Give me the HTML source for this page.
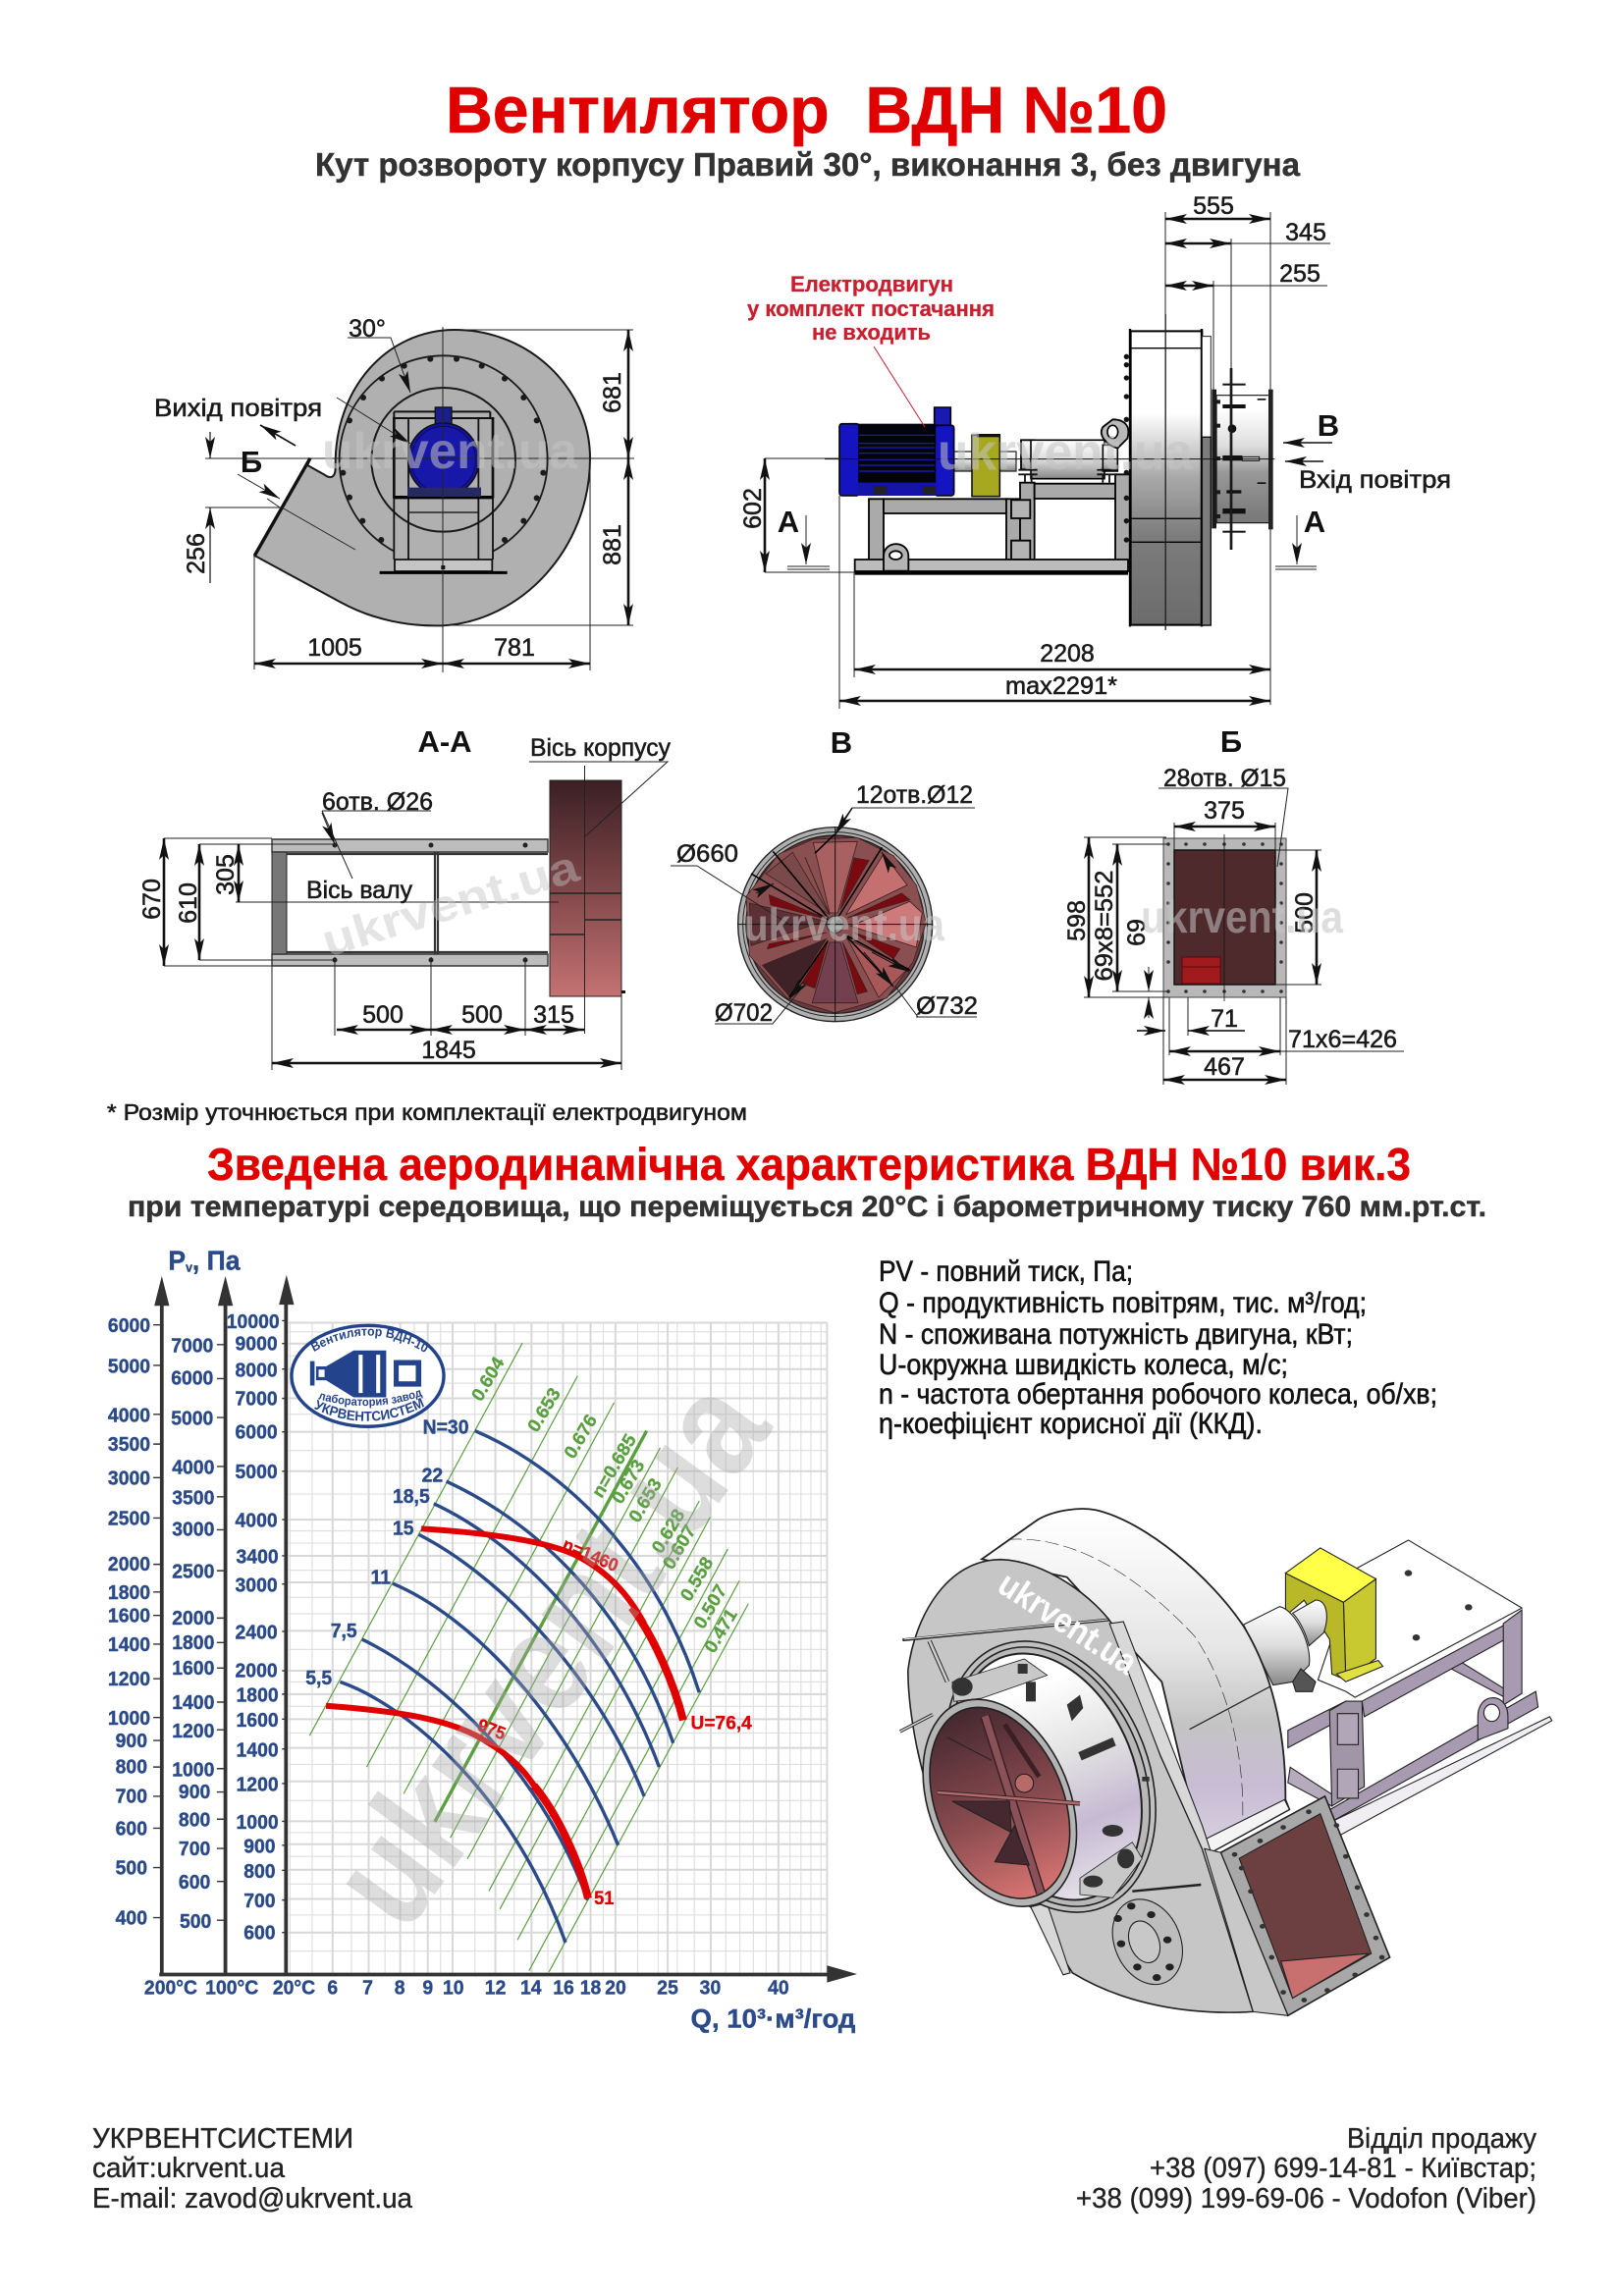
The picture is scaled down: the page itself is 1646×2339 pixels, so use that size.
<!DOCTYPE html>
<html lang="uk"><head><meta charset="utf-8"><title>Вентилятор ВДН №10</title>
<style>
html,body{margin:0;padding:0;background:#fff}
svg{display:block;font-family:"Liberation Sans","DejaVu Sans",sans-serif}
svg *{vector-effect:non-scaling-stroke}
.t{fill:#1a1a1a;font-size:25px;stroke:#1a1a1a;stroke-width:.55px}
.h{font-weight:bold;font-size:31px;fill:#111}
.d{fill:none;stroke:#111;stroke-width:2.6;marker-start:url(#a);marker-end:url(#a)}
.e{fill:none;stroke:#222;stroke-width:1}
.s{stroke:#000;stroke-width:1.6}
.c text{font-weight:bold;font-size:38px;fill:#2a4a8a;stroke:#2a4a8a;stroke-width:.4px}
.g text{font-weight:bold;font-size:36px;fill:#5aa040;stroke:#5aa040;stroke-width:.3px;text-anchor:middle}
.wm{font-weight:bold;fill:#c4c4c4;opacity:.55}
</style></head><body>
<svg xmlns="http://www.w3.org/2000/svg" width="1646" height="2339" viewBox="0 0 1646 2339">
<defs>
<marker id="a" markerUnits="userSpaceOnUse" markerWidth="24" markerHeight="10" refX="22" refY="5" orient="auto-start-reverse"><path d="M0 0L22 5L0 10L5 5Z" fill="#111"/></marker>
<marker id="b" markerUnits="userSpaceOnUse" markerWidth="24" markerHeight="10" refX="22" refY="5" orient="auto"><path d="M0 0L22 5L0 10L5 5Z" fill="#111"/></marker>
<linearGradient id="gc" x1="0" y1="0" x2="0" y2="1"><stop offset=".28" stop-color="#fff"/><stop offset=".5" stop-color="#a8a8a8"/><stop offset=".7" stop-color="#7c7c7c"/><stop offset="1" stop-color="#6c6c6c"/></linearGradient>
<linearGradient id="gi" x1="0" y1="0" x2="0" y2="1"><stop offset=".1" stop-color="#fff"/><stop offset=".4" stop-color="#ddd"/><stop offset=".6" stop-color="#999"/><stop offset="1" stop-color="#777"/></linearGradient>
<linearGradient id="gs" x1="0" y1="0" x2="0" y2="1"><stop offset="0" stop-color="#fff"/><stop offset=".5" stop-color="#ddd"/><stop offset="1" stop-color="#888"/></linearGradient>
<linearGradient id="gm" x1="0" y1="0" x2="0" y2="1"><stop offset="0" stop-color="#3a2024"/><stop offset=".5" stop-color="#80474a"/><stop offset="1" stop-color="#c47272"/></linearGradient>
<linearGradient id="gp" x1="0" y1="0" x2="0" y2="1"><stop offset=".15" stop-color="#fff"/><stop offset=".45" stop-color="#e2e2e2"/><stop offset=".72" stop-color="#c6bad2"/><stop offset="1" stop-color="#e6e2ea"/></linearGradient>
<linearGradient id="gh" x1="0" y1="0" x2="0" y2="1"><stop offset="0" stop-color="#452830"/><stop offset=".55" stop-color="#8a4c50"/><stop offset="1" stop-color="#d87472"/></linearGradient>
<linearGradient id="gd" x1="0" y1="0" x2="0" y2="1"><stop offset=".02" stop-color="#fff"/><stop offset=".4" stop-color="#e6e6e6"/><stop offset=".62" stop-color="#c4c4c4"/><stop offset=".8" stop-color="#c8bcd4"/><stop offset="1" stop-color="#dad4e0"/></linearGradient>
</defs>
<rect width="1646" height="2339" fill="#fff"/>

<!-- titles -->
<text x="454" y="135" font-size="67" font-weight="bold" fill="#e00000" stroke="#e00000" stroke-width=".6" textLength="735" lengthAdjust="spacingAndGlyphs" xml:space="preserve">Вентилятор  ВДН №10</text>
<text x="321" y="179" font-size="33" font-weight="bold" fill="#333" stroke="#333" stroke-width=".5" textLength="1003" lengthAdjust="spacingAndGlyphs">Кут розвороту корпусу Правий 30°, виконання 3, без двигуна</text>

<!-- FRONT VIEW -->
<g transform="translate(230 320) scale(.33333)">
<path d="M258 440L88 738L350 880C450 935 560 955 660 952C900 940 1113 720 1113 440C1113 230 930 48 700 48C490 48 330 230 335 470C335 500 320 505 300 490L250 462Z" fill="#b0b0b0" stroke="#1a1a1a" stroke-width="2"/>
<path d="M258 440L88 738" stroke="#111" stroke-width="3.4"/>
<circle cx="665" cy="445" r="318" fill="none" stroke="#1a1a1a" stroke-width="1.8"/>
<g fill="#1a1a1a"><circle cx="625" cy="137" r="9"/><circle cx="705" cy="137" r="9"/><circle cx="782" cy="158" r="9"/><circle cx="852" cy="197" r="9"/><circle cx="910" cy="255" r="9"/><circle cx="950" cy="325" r="9"/><circle cx="970" cy="485" r="9"/><circle cx="950" cy="562" r="9"/><circle cx="910" cy="632" r="9"/><circle cx="852" cy="690" r="9"/><circle cx="475" cy="690" r="9"/><circle cx="418" cy="632" r="9"/><circle cx="378" cy="560" r="9"/><circle cx="358" cy="485" r="9"/><circle cx="378" cy="325" r="9"/><circle cx="420" cy="255" r="9"/><circle cx="477" cy="197" r="9"/><circle cx="545" cy="158" r="9"/><circle cx="625" cy="745" r="6"/><circle cx="705" cy="745" r="6"/></g>
<rect x="514" y="300" width="302" height="455" fill="#b0b0b0"/>
<circle cx="665" cy="445" r="220" fill="none" stroke="#1a1a1a" stroke-width="2"/>
<path d="M514 750V318M558 750V318M772 750V318M816 750V318" stroke="#111" stroke-width="1.8" fill="none"/>
<path d="M510 318H820M514 298H808M514 298V318M808 298V318" stroke="#111" stroke-width="2" fill="none"/>
<rect x="510" y="318" width="8" height="245" fill="#111"/><rect x="812" y="318" width="8" height="245" fill="#111"/>
<path d="M516 560H816" stroke="#000" stroke-width="3.4"/><path d="M558 606H772" stroke="#222" stroke-width="1.6"/>
<rect x="640" y="285" width="50" height="50" fill="#1a1f8c" stroke="#111" stroke-width="1.4"/>
<ellipse cx="665" cy="445" rx="108" ry="112" fill="#1414a0" stroke="#111" stroke-width="1.6"/>
<ellipse cx="665" cy="445" rx="98" ry="102" fill="#1818a8" stroke="#0a0a60" stroke-width="1"/>
<rect x="555" y="530" width="225" height="28" fill="#262a60"/>
<rect x="516" y="750" width="298" height="36" fill="#c4c4c4" stroke="#111" stroke-width="1.8"/>
<path d="M470 790H860" stroke="#000" stroke-width="3"/>
<rect x="658" y="768" width="12" height="12" fill="#111"/>
</g>
<path class="e" d="M209 467H646M462 336H645M440 637H645M451 333V685M259 565V682M601 466V683M209 517H287M287 517L362 560"/>
<path class="d" d="M259 676H451"/><path class="d" d="M451 676H601"/>
<path class="d" d="M640 336V467"/><path class="d" d="M640 467V637"/>
<path d="M214 440V467" stroke="#111" stroke-width="1.2" marker-end="url(#b)"/><path d="M214 594V517" stroke="#111" stroke-width="1.2" marker-end="url(#b)"/>
<path d="M354 344H398L418 400" class="e" marker-end="url(#b)"/>
<path d="M343 405L418 452" class="e" marker-end="url(#b)"/>
<path d="M242 483L285 508" class="e" marker-end="url(#b)"/><path d="M272 508L285 517" class="e"/>
<path d="M301 454L265 433" stroke="#111" stroke-width="1.6" marker-end="url(#b)"/>
<text class="t" x="374" y="343" text-anchor="middle">30°</text>
<text class="t" x="157" y="424" textLength="171" lengthAdjust="spacingAndGlyphs">Вихід повітря</text>
<text class="h" x="256" y="481" text-anchor="middle" font-size="30">Б</text>
<text class="t" x="341" y="668" text-anchor="middle">1005</text>
<text class="t" x="524" y="668" text-anchor="middle">781</text>
<text class="t" transform="translate(208 564) rotate(-90)" text-anchor="middle">256</text>
<text class="t" transform="translate(632 400) rotate(-90)" text-anchor="middle">681</text>
<text class="t" transform="translate(632 555) rotate(-90)" text-anchor="middle">881</text>
<text class="wm" x="328" y="477" font-size="52" textLength="260" lengthAdjust="spacingAndGlyphs">ukrvent.ua</text>

<!-- SIDE VIEW -->
<g transform="translate(840 320) scale(.33333)">
<rect x="135" y="565" width="45" height="190" fill="#aaa" stroke="#000" stroke-width="1.8"/>
<rect x="180" y="565" width="378" height="44" fill="#aaa" stroke="#000" stroke-width="1.8"/>
<rect x="555" y="565" width="42" height="190" fill="#aaa" stroke="#000" stroke-width="1.8"/>
<rect x="597" y="515" width="44" height="240" fill="#aaa" stroke="#000" stroke-width="1.8"/>
<rect x="570" y="568" width="58" height="56" fill="#b4b4b4" stroke="#000" stroke-width="1.8"/>
<rect x="570" y="692" width="58" height="58" fill="#b4b4b4" stroke="#000" stroke-width="1.8"/>
<rect x="641" y="518" width="250" height="46" fill="#aaa" stroke="#000" stroke-width="1.8"/>
<rect x="888" y="490" width="47" height="265" fill="#aaa" stroke="#000" stroke-width="1.8"/>
<rect x="92" y="750" width="835" height="36" fill="#bcbcbc" stroke="#000" stroke-width="1.8"/>
<rect x="92" y="784" width="835" height="13" fill="#000"/>
<path d="M180 785V740C180 690 256 690 256 740V785Z" fill="#b4b4b4" stroke="#000" stroke-width="1.8"/>
<ellipse cx="217" cy="737" rx="19" ry="13" fill="#fff" stroke="#000" stroke-width="1.8"/>
<rect x="395" y="420" width="190" height="60" fill="url(#gs)" stroke="#222" stroke-width="1.2"/>
<rect x="600" y="385" width="40" height="90" fill="url(#gs)" stroke="#000" stroke-width="1.8"/>
<rect x="630" y="385" width="225" height="118" fill="url(#gs)" stroke="#000" stroke-width="1.6"/>
<rect x="850" y="400" width="45" height="80" fill="url(#gs)" stroke="#000" stroke-width="1.6"/>
<path d="M592 476H650M592 490H650M832 476H895M832 490H895M612 490V515M632 490V515M850 490V515M870 490V515" stroke="#111" stroke-width="1.8" fill="none"/>
<path d="M880 322C920 322 935 345 925 380L895 410C860 400 835 370 850 345Z" fill="#b8b8b8" stroke="#000" stroke-width="1.8"/>
<ellipse cx="880" cy="360" rx="16" ry="20" fill="#fff" stroke="#000" stroke-width="1.6"/>
<rect x="450" y="370" width="85" height="187" fill="#a8a820" stroke="#111" stroke-width="1.6"/><rect x="465" y="366" width="72" height="10" fill="#111"/>
<rect x="335" y="285" width="50" height="60" fill="#1a1ab0" stroke="#000" stroke-width="1.6"/>
<rect x="100" y="335" width="240" height="220" fill="#04040c"/>
<rect x="45" y="335" width="60" height="220" rx="8" fill="#1414c0" stroke="#000" stroke-width="1.6"/>
<rect x="337" y="340" width="58" height="215" rx="8" fill="#1414c0" stroke="#000" stroke-width="1.6"/>
<path d="M105 370H335M105 395H335M105 408H335M105 425H335M105 445H335M105 462H335M105 480H335" stroke="#1c1cc8" stroke-width="1.2"/>
<rect x="100" y="515" width="240" height="40" fill="#1414a8"/>
<path d="M150 525H190V550H150ZM300 525H340V550H300Z" fill="#222"/>
<rect x="935" y="52" width="218" height="898" fill="url(#gc)" stroke="#000" stroke-width="2"/>
<path d="M935 104H1153M935 625H1153M935 697H1153" stroke="#000" stroke-width="1.4"/>
<path d="M933 45V955M1152 45V955" stroke="#000" stroke-width="2.4"/>
<rect x="1153" y="68" width="27" height="308" fill="#fff" stroke="#222" stroke-width="1"/>
<rect x="1153" y="376" width="27" height="575" fill="#7c7c7c" stroke="#111" stroke-width="1.4"/>
<g fill="#111"><circle cx="922" cy="130" r="8"/><circle cx="922" cy="155" r="8"/><circle cx="922" cy="195" r="8"/><circle cx="922" cy="252" r="8"/><circle cx="922" cy="322" r="8"/><circle cx="922" cy="484" r="8"/><circle cx="922" cy="562" r="8"/><circle cx="922" cy="632" r="8"/><circle cx="922" cy="690" r="8"/></g>
<rect x="1197" y="248" width="166" height="390" fill="url(#gi)" stroke="#111" stroke-width="1.2"/>
<rect x="1356" y="230" width="14" height="428" fill="#222"/>
<rect x="1183" y="230" width="14" height="425" fill="#1a1a1a"/>
<g fill="#1a1a1a"><rect x="1195" y="262" width="14" height="12"/><rect x="1195" y="335" width="14" height="12"/><rect x="1195" y="435" width="14" height="12"/><rect x="1195" y="538" width="14" height="12"/><rect x="1195" y="612" width="14" height="12"/></g>
<rect x="1238" y="165" width="8" height="555" fill="#111"/>
<g fill="#111"><rect x="1216" y="212" width="70" height="6"/><rect x="1216" y="276" width="70" height="12"/><circle cx="1245" cy="350" r="13"/><rect x="1216" y="432" width="60" height="16"/><rect x="1228" y="538" width="45" height="10"/><rect x="1216" y="594" width="70" height="16"/><rect x="1216" y="662" width="70" height="6"/><rect x="1322" y="258" width="26" height="5"/><rect x="1322" y="514" width="26" height="5"/></g>
<rect x="1276" y="436" width="52" height="12" fill="#ccc" stroke="#111"/>
<path d="M0 443H1375" stroke="#111" stroke-width="1" fill="none"/>
<path d="M1042 0V965" stroke="#111" stroke-width="1"/>
</g>
<path class="e" d="M1187 216V642M1294 216V718M1254 243V558M1236 286V440M1254 248H1355M1236 291H1352M779 467H860M779 583H871M870 583V690M855 505V722M802 577H845M802 580H845M1299 577H1341M1299 580H1341"/>
<path class="d" d="M1187 223H1294"/><path class="d" d="M1187 248H1254"/><path class="d" d="M1187 291H1236"/>
<path class="d" d="M779 467V583"/><path class="d" d="M870 682H1294"/><path class="d" d="M855 714H1294"/>
<path d="M821 525V575" class="e" marker-end="url(#b)"/><path d="M1321 525V575" class="e" marker-end="url(#b)"/>
<path d="M1357 451H1307" stroke="#111" stroke-width="1.6" marker-end="url(#b)"/><path d="M1348 470H1309" stroke="#111" stroke-width="1.6" marker-end="url(#b)"/>
<path d="M890 353L942 435" stroke="#c8202f" stroke-width="1" fill="none"/>
<g font-weight="bold" font-size="22" fill="#c8202f" stroke="#c8202f" stroke-width=".3">
<text x="805" y="297" textLength="166" lengthAdjust="spacingAndGlyphs">Електродвигун</text>
<text x="761" y="322" textLength="252" lengthAdjust="spacingAndGlyphs">у комплект постачання</text>
<text x="827" y="346" textLength="121" lengthAdjust="spacingAndGlyphs">не входить</text>
</g>
<text class="t" x="1236" y="218" text-anchor="middle">555</text>
<text class="t" x="1330" y="245" text-anchor="middle">345</text>
<text class="t" x="1324" y="287" text-anchor="middle">255</text>
<text class="t" transform="translate(775 518) rotate(-90)" text-anchor="middle">602</text>
<text class="h" x="803" y="542" text-anchor="middle" font-size="27">А</text>
<text class="h" x="1339" y="542" text-anchor="middle" font-size="27">А</text>
<text class="h" x="1353" y="444" text-anchor="middle" font-size="30">В</text>
<text class="t" x="1323" y="497" textLength="155" lengthAdjust="spacingAndGlyphs">Вхід повітря</text>
<text class="t" x="1087" y="674" text-anchor="middle">2208</text>
<text class="t" x="1024" y="707" textLength="114" lengthAdjust="spacingAndGlyphs">max2291*</text>
<text class="wm" x="955" y="478" font-size="52" textLength="260" lengthAdjust="spacingAndGlyphs">ukrvent.ua</text>

<!-- SECTION A-A -->
<rect x="277" y="855" width="281" height="13" fill="#bdbdbd" stroke="#333" stroke-width="1.4"/>
<rect x="277" y="972" width="281" height="12" fill="#bdbdbd" stroke="#333" stroke-width="1.4"/>
<rect x="277" y="868" width="15" height="104" fill="#777" stroke="#222" stroke-width="1"/>
<path d="M292 870H558M292 970H558M443 868V972M446 868V972" stroke="#333" stroke-width="2.2" fill="none"/>
<rect x="560" y="795" width="73" height="220" fill="url(#gm)" stroke="#222" stroke-width="1"/>
<path d="M560 910H633M596 937H633M560 952H596" stroke="#222" stroke-width="1.4"/>
<rect x="633" y="1009" width="4" height="3" fill="#111"/>
<path class="e" d="M595.5 780V1053M167 854H277M167 984H277M203 860H341M203 978H341M240 919H569M277 984V1090M341 975V1055M439 975V1055M535 975V1055M633 1015V1090"/>
<g fill="#222"><circle cx="341" cy="861" r="2.5"/><circle cx="439" cy="861" r="2.5"/><circle cx="535" cy="861" r="2.5"/><circle cx="341" cy="978" r="2.5"/><circle cx="439" cy="978" r="2.5"/><circle cx="535" cy="978" r="2.5"/></g>
<path class="d" d="M167 854V984"/><path class="d" d="M203 860V978"/><path class="d" d="M243 860V919"/>
<path class="d" d="M343 1049H439"/><path class="d" d="M439 1049H535"/><path class="d" d="M535 1049H595"/><path class="d" d="M277 1083H633"/>
<path class="e" d="M328 826H439M328 826L359 895M539 776H680L596 852"/>
<path d="M328 828L341 860" class="e" marker-end="url(#b)"/>
<text class="h" x="453" y="766" text-anchor="middle" font-size="30">А-А</text>
<text class="h" x="857" y="767" text-anchor="middle" font-size="30">В</text>
<text class="h" x="1254" y="766" text-anchor="middle" font-size="30">Б</text>
<text class="t" x="540" y="770" textLength="143" lengthAdjust="spacingAndGlyphs">Вісь корпусу</text>
<text class="t" x="328" y="825" textLength="113" lengthAdjust="spacingAndGlyphs">6отв. Ø26</text>
<text class="t" x="312" y="915" textLength="108" lengthAdjust="spacingAndGlyphs">Вісь валу</text>
<text class="t" transform="translate(163 916) rotate(-90)" text-anchor="middle">670</text>
<text class="t" transform="translate(200 920) rotate(-90)" text-anchor="middle">610</text>
<text class="t" transform="translate(238 891) rotate(-90)" text-anchor="middle">305</text>
<text class="t" x="390" y="1042" text-anchor="middle">500</text>
<text class="t" x="491" y="1042" text-anchor="middle">500</text>
<text class="t" x="564" y="1042" text-anchor="middle">315</text>
<text class="t" x="457" y="1078" text-anchor="middle">1845</text>
<text class="wm" transform="translate(334 975) rotate(-17)" font-size="46" style="opacity:.45" textLength="270" lengthAdjust="spacingAndGlyphs">ukrvent.ua</text>

<!-- VIEW B circle -->
<g transform="translate(730 830) scale(.33333)">
<circle cx="362" cy="335" r="297" fill="#b0b0b0" stroke="#222" stroke-width="1.4"/>
<circle cx="362" cy="335" r="282" fill="none" stroke="#222" stroke-width="1"/>
<circle cx="362" cy="335" r="272" fill="#6c3a3e" stroke="#222" stroke-width="1.4"/>
<g stroke="#3a2020" stroke-width=".8">
<polygon points="430,70 540,125 610,215 640,330 600,450 520,560 360,605 215,560 100,430 90,250 190,120 295,75" fill="#8a4f50"/>
<polygon points="295,85 430,82 370,300 345,300" fill="#a86060"/>
<polygon points="510,120 582,215 395,305" fill="#c47070"/>
<polygon points="590,265 628,300 610,405 410,340" fill="#cc7a7a"/>
<polygon points="585,470 495,558 400,380" fill="#a85858"/>
<polygon points="292,575 432,575 378,390 345,390" fill="#744050"/>
<polygon points="140,460 222,555 335,380" fill="#3f2228"/>
<polygon points="100,270 105,400 330,325" fill="#5c3035"/>
<polygon points="150,180 232,115 345,305" fill="#7a4a4a"/>
<polygon points="465,140 420,132 378,290" fill="#7a0a10"/>
<polygon points="565,240 590,260 400,315" fill="#7a0a10"/>
<polygon points="560,410 540,440 420,360" fill="#7a0a10"/>
<polygon points="460,540 430,548 385,390" fill="#7a0a10"/>
<polygon points="300,530 260,515 340,385" fill="#7a0a10"/>
<polygon points="160,245 165,275 340,320" fill="#7a0a10"/>
<polygon points="155,410 160,395 335,360" fill="#7a0a10"/>
<polygon points="270,130 310,225 345,305" fill="#7a0a10"/>
</g>
<circle cx="362" cy="335" r="26" fill="#999" stroke="#333"/>
<path d="M362 40V630M65 335H660" stroke="#111" stroke-width="1" fill="none"/>
<g stroke="#000" stroke-width="1.6" fill="none">
<path d="M505 100L372 312"/><path d="M172 112L340 315"/><path d="M105 180L340 320"/><path d="M590 475L395 368"/><path d="M540 525L395 370"/><path d="M222 558L340 385"/>
<path d="M360 60L300 118"/>
</g>
</g>
<path class="e" d="M868 823H993M868 823L850 848M683 882H710L806 943M728 1043H787L822 1000M933 1036H935L912 1005M933 1036H995"/>
<path d="M868 823L851 850" stroke="#111" stroke-width="1.5" marker-end="url(#b)"/>
<path d="M905 880L898 868" stroke="#111" stroke-width="1" marker-end="url(#b)"/>
<path d="M770 910L788 900" stroke="#111" stroke-width="1" marker-end="url(#b)"/>
<path d="M818 1000L804 1018" stroke="#111" stroke-width="1" marker-end="url(#b)"/>
<path d="M888 970L926 990" stroke="#111" stroke-width="1" marker-end="url(#b)"/>
<path d="M880 970L910 1005" stroke="#111" stroke-width="1" marker-end="url(#b)"/>
<text class="t" x="872" y="818" textLength="119" lengthAdjust="spacingAndGlyphs">12отв.Ø12</text>
<text class="t" x="689" y="878" textLength="63" lengthAdjust="spacingAndGlyphs">Ø660</text>
<text class="t" x="728" y="1040" textLength="59" lengthAdjust="spacingAndGlyphs">Ø702</text>
<text class="t" x="933" y="1033" textLength="63" lengthAdjust="spacingAndGlyphs">Ø732</text>
<text class="wm" x="758" y="958" font-size="46" textLength="204" lengthAdjust="spacingAndGlyphs">ukrvent.ua</text>

<!-- VIEW Б -->
<rect x="1185" y="854" width="125" height="162" fill="#b8b8b8" stroke="#444" stroke-width="1"/>
<rect x="1196" y="866" width="103" height="137" fill="#4e2a2c" stroke="#111" stroke-width="1.4"/>
<rect x="1204" y="975" width="39" height="27" fill="#a01a1e" stroke="#5a0a0a" stroke-width="1"/><path d="M1204 985H1243" stroke="#5a0a0a"/>
<g fill="#333"><circle cx="1190" cy="860" r="1.8"/><circle cx="1208" cy="860" r="1.8"/><circle cx="1227" cy="860" r="1.8"/><circle cx="1247" cy="860" r="1.8"/><circle cx="1267" cy="860" r="1.8"/><circle cx="1286" cy="860" r="1.8"/><circle cx="1305" cy="860" r="1.8"/><circle cx="1190" cy="1010" r="1.8"/><circle cx="1208" cy="1010" r="1.8"/><circle cx="1227" cy="1010" r="1.8"/><circle cx="1247" cy="1010" r="1.8"/><circle cx="1267" cy="1010" r="1.8"/><circle cx="1286" cy="1010" r="1.8"/><circle cx="1305" cy="1010" r="1.8"/><circle cx="1190" cy="880" r="1.8"/><circle cx="1190" cy="900" r="1.8"/><circle cx="1190" cy="920" r="1.8"/><circle cx="1190" cy="940" r="1.8"/><circle cx="1190" cy="960" r="1.8"/><circle cx="1190" cy="980" r="1.8"/><circle cx="1305" cy="880" r="1.8"/><circle cx="1305" cy="900" r="1.8"/><circle cx="1305" cy="920" r="1.8"/><circle cx="1305" cy="940" r="1.8"/><circle cx="1305" cy="960" r="1.8"/><circle cx="1305" cy="980" r="1.8"/></g>
<path d="M1247 850V1020" stroke="#111" stroke-width=".8"/>
<path class="e" d="M1104 853H1188M1104 1016H1188M1133 860H1190M1133 1010H1190M1299 866H1346M1299 1003H1346M1196 838V866M1299 838V866M1185 1016V1105M1310 1016V1105M1191 1016V1075M1304 1016V1075M1210 1016V1055M1304 1071H1430M1180 803H1312L1301 883M1165 1016H1190"/>
<path class="d" d="M1109 853V1016"/><path class="d" d="M1138 860V1010"/><path class="d" d="M1341 866V1003"/>
<path class="d" d="M1196 842H1299"/><path class="d" d="M1185 1100H1310"/><path class="d" d="M1191 1071H1304"/>
<path d="M1170 985V1010" class="e" marker-end="url(#b)"/><path d="M1170 1037V1016" class="e" marker-end="url(#b)"/>
<path d="M1158 1050H1187" class="s" marker-end="url(#b)"/><path d="M1268 1050H1210" class="s" marker-end="url(#b)"/>
<text class="t" x="1185" y="801" textLength="125" lengthAdjust="spacingAndGlyphs">28отв. Ø15</text>
<text class="t" x="1247" y="834" text-anchor="middle">375</text>
<text class="t" transform="translate(1105 938) rotate(-90)" text-anchor="middle">598</text>
<text class="t" transform="translate(1133 943) rotate(-90)" text-anchor="middle" textLength="113" lengthAdjust="spacingAndGlyphs">69x8=552</text>
<text class="t" transform="translate(1166 950) rotate(-90)" text-anchor="middle">69</text>
<text class="t" transform="translate(1337 930) rotate(-90)" text-anchor="middle">500</text>
<text class="t" x="1247" y="1046" text-anchor="middle">71</text>
<text class="t" x="1312" y="1067" textLength="111" lengthAdjust="spacingAndGlyphs">71x6=426</text>
<text class="t" x="1247" y="1095" text-anchor="middle">467</text>
<text class="wm" x="1162" y="950" font-size="46" textLength="206" lengthAdjust="spacingAndGlyphs">ukrvent.ua</text>

<text class="t" x="109" y="1141" style="font-size:23px" textLength="652" lengthAdjust="spacingAndGlyphs">* Розмір уточнюється при комплектації електродвигуном</text>
<text x="211" y="1202" font-size="46" font-weight="bold" fill="#e00000" stroke="#e00000" stroke-width=".5" textLength="1226" lengthAdjust="spacingAndGlyphs">Зведена аеродинамічна характеристика ВДН №10 вик.3</text>
<text x="130" y="1239" font-size="30" font-weight="bold" fill="#333" stroke="#333" stroke-width=".5" textLength="1384" lengthAdjust="spacingAndGlyphs">при температурі середовища, що переміщується 20°С і барометричному тиску 760 мм.рт.ст.</text>

<!-- CHART -->
<g transform="matrix(.5102 0 0 .542 100 1250)">
<path fill="none" stroke="#e0e0e0" stroke-width="1.2" d="M383 180V1402M427 180V1402M505.500 180V1402M572.700 180V1402M631 180V1402M683.500 180V1402M752 180V1402M830.600 180V1402M897.700 180V1402M956.400 180V1402M1008.400 180V1402M1077 180V1402M1118 180V1402M1156 180V1402M1190 180V1402M1253 180V1402M1281 180V1402M1308 180V1402M1333.700 180V1402M1381 180V1402M1403 180V1402M1423 180V1402M1443 180V1402M380 197H1455M380 242H1455M380 293.600H1455M380 352H1455M380 420H1455M380 502H1455M380 571H1455M380 594H1455M380 645H1455M380 696H1455M380 727H1455M380 794H1455M380 855H1455M380 901H1455M380 951H1455M380 1010H1455M380 1078H1455M380 1138H1455M380 1183H1455M380 1235H1455M380 1293H1455M380 1361H1455"/>
<path fill="none" stroke="#d8d8d8" stroke-width="2" d="M468 180V1402M540 180V1402M603 180V1402M658 180V1402M707.600 180V1402M793 180V1402M865 180V1402M928 180V1402M983 180V1402M1032.700 180V1402M1137 180V1402M1223 180V1402M1358 180V1402M1455 180V1402M380 180H1455M380 219H1455M380 267H1455M380 322H1455M380 385H1455M380 459H1455M380 550H1455M380 618H1455M380 668H1455M380 759H1455M380 834H1455M380 878H1455M380 925H1455M380 979H1455M380 1042H1455M380 1117H1455M380 1160H1455M380 1208H1455M380 1263H1455M380 1326H1455"/>
<path fill="none" stroke="#5aa040" stroke-width="1.2" d="M422 956L847 218M536 1015L957 280M610 1065L1030 330M703 1148L1122 415M737 1188L1157 452M780 1248L1200 515M802 1282L1222 545M837 1340L1257 605M860 1398L1280 665M900 1400L1298 708"/>
<path fill="none" stroke="#5aa040" stroke-width="3.4" d="M672 1118L1095 383"/>
<g class="g">
<text transform="translate(788 292) rotate(-58)">0.604</text>
<text transform="translate(900 350) rotate(-58)">0.653</text>
<text transform="translate(973 400) rotate(-58)">0.676</text>
<text transform="translate(1040 455) rotate(-58)">n=0.685</text>
<text transform="translate(1068 485) rotate(-58)">0.673</text>
<text transform="translate(1102 520) rotate(-58)">0.653</text>
<text transform="translate(1148 578) rotate(-58)">0.628</text>
<text transform="translate(1170 608) rotate(-58)">0.607</text>
<text transform="translate(1205 668) rotate(-58)">0.558</text>
<text transform="translate(1232 720) rotate(-58)">0.507</text>
<text transform="translate(1253 765) rotate(-58)">0.471</text>
</g>
<g fill="none" stroke="#2a4a8a" stroke-width="3.4">
<path d="M752 383C920 450 1110 610 1200 875"/>
<path d="M695 478C860 550 1050 700 1148 970"/>
<path d="M670 520C830 590 1020 760 1120 1015"/>
<path d="M640 578C790 650 990 830 1090 1070"/>
<path d="M588 670C740 730 930 910 1038 1162"/>
<path d="M527 775C670 840 880 1010 977 1265"/>
<path d="M483 855C620 900 830 1070 933 1345"/>
</g>
<g fill="none" stroke="#e00000" stroke-linecap="butt">
<path d="M645 567C780 575 900 590 960 620C1040 660 1075 720 1090 745" stroke-width="6"/>
<path d="M1065 715C1110 770 1150 860 1168 927" stroke-width="8"/>
<path d="M455 900C600 910 710 925 780 970C850 1010 870 1050 895 1085" stroke-width="6"/>
<path d="M870 1050C915 1100 960 1190 978 1262" stroke-width="8"/>
</g>
<g class="c">
<text x="648" y="388">N=30</text><text x="646" y="479">22</text><text x="588" y="518">18,5</text><text x="588" y="578">15</text><text x="544" y="671">11</text><text x="464" y="771">7,5</text><text x="414" y="860">5,5</text>
</g>
<g font-weight="bold" font-size="36" fill="#e00000" stroke="#e00000" stroke-width=".3">
<text transform="translate(925 605) rotate(22)" font-size="34">n=1460</text>
<text transform="translate(755 945) rotate(20)" font-size="34">975</text>
<text x="1183" y="944" textLength="122" lengthAdjust="spacingAndGlyphs">U=76,4</text>
<text x="990" y="1273">51</text>
</g>
<g fill="none" stroke="#333" stroke-width="3.8"><path d="M127 140V1405M254 140V1405M375 140V1405M122 1405H1460"/></g>
<g fill="#333"><path d="M127 92L112 148H142ZM254 92L239 148H269ZM376 90L361 146H391ZM1515 1404L1455 1388V1420Z"/></g>
<path fill="none" stroke="#333" stroke-width="1.4" d="M110 184H127M110 260H127M110 352H127M110 408H127M110 471H127M110 547H127M110 634H127M110 686H127M110 730H127M110 784H127M110 849H127M110 922H127M110 965H127M110 1015H127M110 1070H127M110 1130H127M110 1204H127M110 1298H127M237 221H254M237 285H254M237 358H254M237 450H254M237 507H254M237 569H254M237 646H254M237 735H254M237 781H254M237 829H254M237 893H254M237 945H254M237 1018H254M237 1062H254M237 1113H254M237 1168H254M237 1230H254M237 1303H254M367 176H375M367 219H375M367 267H375M367 322H375M367 385H375M367 459H375M367 550H375M367 618H375M367 671H375M367 760H375M367 834H375M367 878H375M367 925H375M367 981H375M367 1046H375M367 1117H375M367 1162H375M367 1209H375M367 1265H375M367 1326H375"/>
<g class="c" text-anchor="end">
<text x="104" y="197">6000</text><text x="104" y="274">5000</text><text x="104" y="366">4000</text><text x="104" y="421">3500</text><text x="104" y="484">3000</text><text x="104" y="560">2500</text><text x="104" y="646">2000</text><text x="104" y="699">1800</text><text x="104" y="743">1600</text><text x="104" y="797">1400</text><text x="104" y="862">1200</text><text x="104" y="935">1000</text><text x="98" y="978">900</text><text x="98" y="1027">800</text><text x="98" y="1082">700</text><text x="98" y="1143">600</text><text x="98" y="1217">500</text><text x="98" y="1311">400</text>
<text x="230" y="235">7000</text><text x="230" y="296">6000</text><text x="230" y="372">5000</text><text x="232" y="464">4000</text><text x="232" y="521">3500</text><text x="232" y="580">3000</text><text x="232" y="660">2500</text><text x="232" y="747">2000</text><text x="232" y="793">1800</text><text x="232" y="841">1600</text><text x="232" y="906">1400</text><text x="232" y="959">1200</text><text x="232" y="1032">1000</text><text x="224" y="1074">900</text><text x="224" y="1126">800</text><text x="224" y="1181">700</text><text x="224" y="1244">600</text><text x="226" y="1317">500</text>
<text x="362" y="190">10000</text><text x="358" y="232">9000</text><text x="358" y="281">8000</text><text x="358" y="335">7000</text><text x="358" y="398">6000</text><text x="358" y="472">5000</text><text x="358" y="564">4000</text><text x="360" y="632">3400</text><text x="358" y="685">3000</text><text x="358" y="774">2400</text><text x="358" y="846">2000</text><text x="360" y="892">1800</text><text x="360" y="939">1600</text><text x="360" y="995">1400</text><text x="360" y="1060">1200</text><text x="360" y="1131">1000</text><text x="354" y="1176">900</text><text x="354" y="1223">800</text><text x="354" y="1279">700</text><text x="354" y="1339">600</text>
</g>
<g class="c" text-anchor="middle">
<text x="145" y="1442">200°C</text><text x="267" y="1442">100°C</text><text x="391" y="1442">20°C</text><text x="468" y="1442">6</text><text x="538" y="1442">7</text><text x="602" y="1442">8</text><text x="658" y="1442">9</text><text x="709" y="1442">10</text><text x="793" y="1442">12</text><text x="864" y="1442">14</text><text x="929" y="1442">16</text><text x="983" y="1442">18</text><text x="1033" y="1442">20</text><text x="1137" y="1442">25</text><text x="1222" y="1442">30</text><text x="1358" y="1442">40</text>
</g>
<text x="1183" y="1505" font-size="50" font-weight="bold" fill="#2a4a8a" stroke="#2a4a8a" stroke-width=".4" textLength="329" lengthAdjust="spacingAndGlyphs">Q, 10³·м³/год</text>
<text x="140" y="80" font-size="52" font-weight="bold" fill="#2a4a8a" stroke="#2a4a8a" stroke-width=".4">P<tspan font-size="24" dy="4">v</tspan><tspan dy="-4">, Па</tspan></text>
<ellipse cx="538" cy="280" rx="152" ry="95" fill="#fff" stroke="#23438c" stroke-width="3.4"/>
<path id="lg1" d="M425 238Q540 170 655 238" fill="none"/>
<path id="lg2" d="M435 322Q540 352 645 318" fill="none"/>
<path id="lg3" d="M428 340Q540 392 655 335" fill="none"/>
<g font-weight="bold" fill="#23438c">
<text font-size="24"><textPath href="#lg1" startOffset="6">Вентилятор ВДН-10</textPath></text>
<text font-size="22"><textPath href="#lg2" startOffset="4">лаборатория завода</textPath></text>
<text font-size="26"><textPath href="#lg3" startOffset="2">УКРВЕНТСИСТЕМИ</textPath></text>
</g>
<g fill="#23438c"><path d="M423 252H432V298H423ZM435 262H455V288H435ZM455 262L510 232H575V320H510L455 288Z"/><rect x="590" y="250" width="55" height="50"/></g>
<g fill="#fff"><rect x="520" y="240" width="8" height="72"/><rect x="555" y="240" width="8" height="72"/><rect x="600" y="260" width="34" height="30"/><rect x="440" y="268" width="12" height="14"/></g>
</g>
<text class="wm" transform="translate(412 1972) rotate(-54)" font-size="150" style="fill:#a8a8a8;opacity:.38" textLength="640" lengthAdjust="spacingAndGlyphs">ukrvent.ua</text>

<!-- LEGEND -->
<g font-size="30" fill="#111" stroke="#111" stroke-width=".6">
<text x="895" y="1305" textLength="259" lengthAdjust="spacingAndGlyphs">PV - повний тиск, Па;</text>
<text x="895" y="1337" textLength="497" lengthAdjust="spacingAndGlyphs">Q - продуктивність повітрям, тис. м³/год;</text>
<text x="895" y="1369" textLength="483" lengthAdjust="spacingAndGlyphs">N - споживана потужність двигуна, кВт;</text>
<text x="895" y="1400" textLength="417" lengthAdjust="spacingAndGlyphs">U-окружна швидкість колеса, м/с;</text>
<text x="895" y="1430" textLength="569" lengthAdjust="spacingAndGlyphs">n - частота обертання робочого колеса, об/хв;</text>
<text x="895" y="1460" textLength="391" lengthAdjust="spacingAndGlyphs">η-коефіцієнт корисної дії (ККД).</text>
</g>

<!-- 3D VIEW: back frame -->
<g transform="matrix(.4719 0 0 .3954 880 1480)" stroke="#222" stroke-width="1.1">
<polygon points="1175,225 1420,400 1060,630 1040,615 980,585 1060,300" fill="#fff"/>
<g fill="#333" stroke="none"><circle cx="1175" cy="310" r="8"/><circle cx="1305" cy="398" r="8"/><circle cx="1192" cy="476" r="8"/></g>
<polygon points="1010,950 1480,680 1485,690 1020,990" fill="#f0eef2"/>
<polygon points="1265,555 1290,540 1385,610 1380,628" fill="#a89ab0"/>
<polygon points="1075,640 1380,445 1385,480 1080,680" fill="#a89ab0"/>
<polygon points="1380,440 1420,405 1420,620 1380,650" fill="#a89ab0"/>
<polygon points="915,715 1040,640 1040,680 915,760" fill="#a89ab0"/>
<polygon points="920,810 1010,880 1010,910 915,850" fill="#b6aabd"/>
<polygon points="1005,920 1450,615 1455,655 1010,950" fill="#a89ab0"/>
<path d="M1325 740V680C1325 615 1390 615 1390 680V710Z" fill="#a89ab0"/><ellipse cx="1355" cy="670" rx="17" ry="22" fill="#fff"/>
<polygon points="1005,665 1040,640 1075,640 1080,860 1010,910" fill="#a096a8"/>
<rect x="1022" y="672" width="45" height="80" fill="#b0a6b8"/><rect x="1022" y="815" width="45" height="75" fill="#b0a6b8"/>
<polygon points="1035,385 1105,325 1105,530 1040,585" fill="#c8c830"/>
<polygon points="910,310 1035,385 1040,585 1010,570 1005,480 950,380 910,420" fill="#b8b828"/>
<polygon points="910,310 985,245 1105,325 1035,385" fill="#ffff48"/>
<polygon points="1020,570 1110,535 1120,550 1040,590" fill="#e0e040"/>
</g>
<!-- drum and housing -->
<g transform="translate(900 1500) scale(.33333)" stroke="#222" stroke-width="1.1">
<path d="M1100 465L1210 410C1260 420 1310 530 1300 590L1250 640L1190 650Z" fill="url(#gs)"/>
<path d="M1250 430L1320 390C1350 390 1365 430 1345 490L1300 530C1290 490 1270 450 1250 430Z" fill="url(#gs)"/>
<path d="M1250 640L1275 600L1320 640L1310 670H1260Z" fill="#555"/>
<path d="M300 265L470 145C520 115 600 105 650 115C800 150 1000 320 1100 470C1180 600 1230 780 1228 1000L1240 1030L985 1170L975 1165L850 640L560 320Z" fill="url(#gd)" stroke-width="1.8"/>
<path d="M935 785L1180 655" fill="none" stroke-width="1.2"/>
<path d="M380 205C600 190 800 340 950 500C1060 660 1110 900 1095 1100" fill="none" stroke-width=".6" stroke-dasharray="14 5"/>
<path d="M975 1125L1225 1000L1240 1030L985 1170Z" fill="#f4f4f4"/>
</g>
<!-- front casing -->
<g transform="matrix(.4719 0 0 .3954 880 1480)" stroke="#222" stroke-width="1.1">
<path d="M95 560C110 420 180 275 295 275C400 280 500 380 535 440L640 780L730 1020L840 1440C700 1450 560 1420 450 1340L360 1170L240 1100C150 1000 95 720 95 560Z" fill="#c6c6c6" stroke-width="1.6"/>
<path d="M530 440L560 435L730 960L860 1430L840 1440L730 1020L640 780Z" fill="#d8d8d8"/>
<path d="M360 1170L395 1160L445 1340L430 1345Z" fill="#d8d8d8"/>
<ellipse cx="612" cy="1260" rx="72" ry="112" fill="#bdbdbd" transform="rotate(-15 612 1260)"/>
<ellipse cx="605" cy="1260" rx="32" ry="55" fill="#c8c8c8" transform="rotate(-15 605 1260)"/>
<g fill="#222" stroke="none"><circle cx="577" cy="1168" r="9"/><circle cx="620" cy="1190" r="9"/><circle cx="655" cy="1255" r="9"/><circle cx="660" cy="1325" r="9"/><circle cx="632" cy="1352" r="9"/><circle cx="590" cy="1325" r="9"/><circle cx="555" cy="1265" r="9"/><circle cx="548" cy="1200" r="9"/></g>
</g>
<!-- inlet -->
<g transform="translate(900 1500) scale(.33333)" stroke="#222" stroke-width="1.1">
<path d="M58 512L690 450" fill="none" stroke="#222" stroke-width="3"/><path d="M62 510L685 450" fill="none" stroke="#eee" stroke-width="1"/>
<path d="M140 515L195 640" fill="none" stroke="#222" stroke-width="4.5"/><path d="M140 515L195 640" fill="none" stroke="#ccc" stroke-width="2.6"/>
<ellipse cx="510" cy="930" rx="300" ry="430" transform="rotate(-22 510 930)" fill="#c0c0c0" stroke-width="1.6"/>
<ellipse cx="510" cy="930" rx="282" ry="412" transform="rotate(-22 510 930)" fill="#b8b8b8" stroke-width="1.6"/>
<ellipse cx="505" cy="930" rx="262" ry="392" transform="rotate(-22 505 930)" fill="url(#gp)" stroke-width="2"/>
<path d="M760 1280L970 1260" fill="none" stroke-width="2.4"/>
<path d="M210 640L430 570L500 620L300 690L215 700Z" fill="#c8c8c8" stroke-width=".8"/>
<path d="M600 1240L760 1130L790 1180L700 1300L600 1290Z" fill="#c8c8c8" stroke-width=".8"/>
<ellipse cx="355" cy="1010" rx="215" ry="330" transform="rotate(-22 355 1010)" fill="#b4b4b4" stroke-width="1.6"/>
<ellipse cx="355" cy="1010" rx="195" ry="305" transform="rotate(-22 355 1010)" fill="url(#gh)" stroke-width="1.6"/>
<path d="M310 745L480 1285" stroke="#3a2024" stroke-width="10" fill="none"/><path d="M310 745L480 1285" stroke="#8a5258" stroke-width="7" fill="none"/>
<path d="M165 978L600 1012" stroke="#3a2024" stroke-width="4.5" fill="none"/><path d="M165 978L600 1012" stroke="#b06a6a" stroke-width="2.6" fill="none"/>
<path d="M370 770L475 930" stroke="#3a2024" stroke-width="5" fill="none"/>
<circle cx="430" cy="950" r="28" fill="#b86a68"/>
<polygon points="210,1005 385,1005 390,1100" fill="#452830"/>
<polygon points="340,1190 400,1080 445,1200" fill="#452830"/>
<path d="M195 810L330 880" stroke="#222" stroke-width="1" fill="none"/>
<path d="M50 792L150 740" stroke="#222" stroke-width="3.4" fill="none"/><path d="M50 792L150 740" stroke="#ccc" stroke-width="1.6" fill="none"/>
<g fill="#333" stroke="none">
<ellipse cx="240" cy="655" rx="32" ry="28"/><rect x="410" y="585" width="30" height="30"/><rect x="435" y="640" width="30" height="60"/><polygon points="560,710 600,680 610,720 575,760"/><polygon points="595,855 700,810 710,835 605,880"/><ellipse cx="700" cy="1095" rx="32" ry="18"/><ellipse cx="740" cy="1180" rx="26" ry="30"/><ellipse cx="640" cy="1250" rx="30" ry="18"/><rect x="790" y="930" width="22" height="14"/>
</g>
</g>
<!-- outlet -->
<g transform="matrix(.4719 0 0 .3954 880 1480)" stroke="#222" stroke-width="1.1">
<polygon points="770,1030 995,885 1135,1300 915,1450" fill="#a8a8a8" stroke-width="1.6"/>
<polygon points="810,1045 985,930 1095,1290 925,1405" fill="#6c4040"/>
<polygon points="900,1310 1090,1290 925,1405" fill="#c87070"/>
<path d="M735 1020L770 1030L915 1450L840 1440Z" fill="#c8c8c8"/>
<g fill="#333" stroke="none"><circle cx="800" cy="1035" r="6"/><circle cx="855" cy="1000" r="6"/><circle cx="905" cy="965" r="6"/><circle cx="960" cy="925" r="6"/><circle cx="1020" cy="960" r="6"/><circle cx="1040" cy="1040" r="6"/><circle cx="1065" cy="1120" r="6"/><circle cx="1085" cy="1190" r="6"/><circle cx="1105" cy="1250" r="6"/><circle cx="1118" cy="1300" r="6"/><circle cx="1060" cy="1345" r="6"/><circle cx="1000" cy="1385" r="6"/><circle cx="950" cy="1410" r="6"/><circle cx="835" cy="1130" r="6"/><circle cx="815" cy="1070" r="6"/><circle cx="860" cy="1220" r="6"/><circle cx="880" cy="1300" r="6"/><circle cx="905" cy="1390" r="6"/></g>
</g>
<text transform="translate(1014 1620) rotate(33)" font-size="36" font-weight="bold" fill="#fff" textLength="160" lengthAdjust="spacingAndGlyphs">ukrvent.ua</text>

<!-- FOOTER -->
<g font-size="29" fill="#222" stroke="#222" stroke-width=".35">
<text x="94" y="2188" textLength="266" lengthAdjust="spacingAndGlyphs">УКРВЕНТСИСТЕМИ</text>
<text x="94" y="2218" textLength="196" lengthAdjust="spacingAndGlyphs">сайт:ukrvent.ua</text>
<text x="94" y="2249" textLength="326" lengthAdjust="spacingAndGlyphs">E-mail: zavod@ukrvent.ua</text>
<text x="1372" y="2188" textLength="193" lengthAdjust="spacingAndGlyphs">Відділ продажу</text>
<text x="1171" y="2218" textLength="394" lengthAdjust="spacingAndGlyphs">+38 (097) 699-14-81 - Київстар;</text>
<text x="1096" y="2249" textLength="469" lengthAdjust="spacingAndGlyphs">+38 (099) 199-69-06 - Vodofon (Viber)</text>
</g>
</svg>
</body></html>
